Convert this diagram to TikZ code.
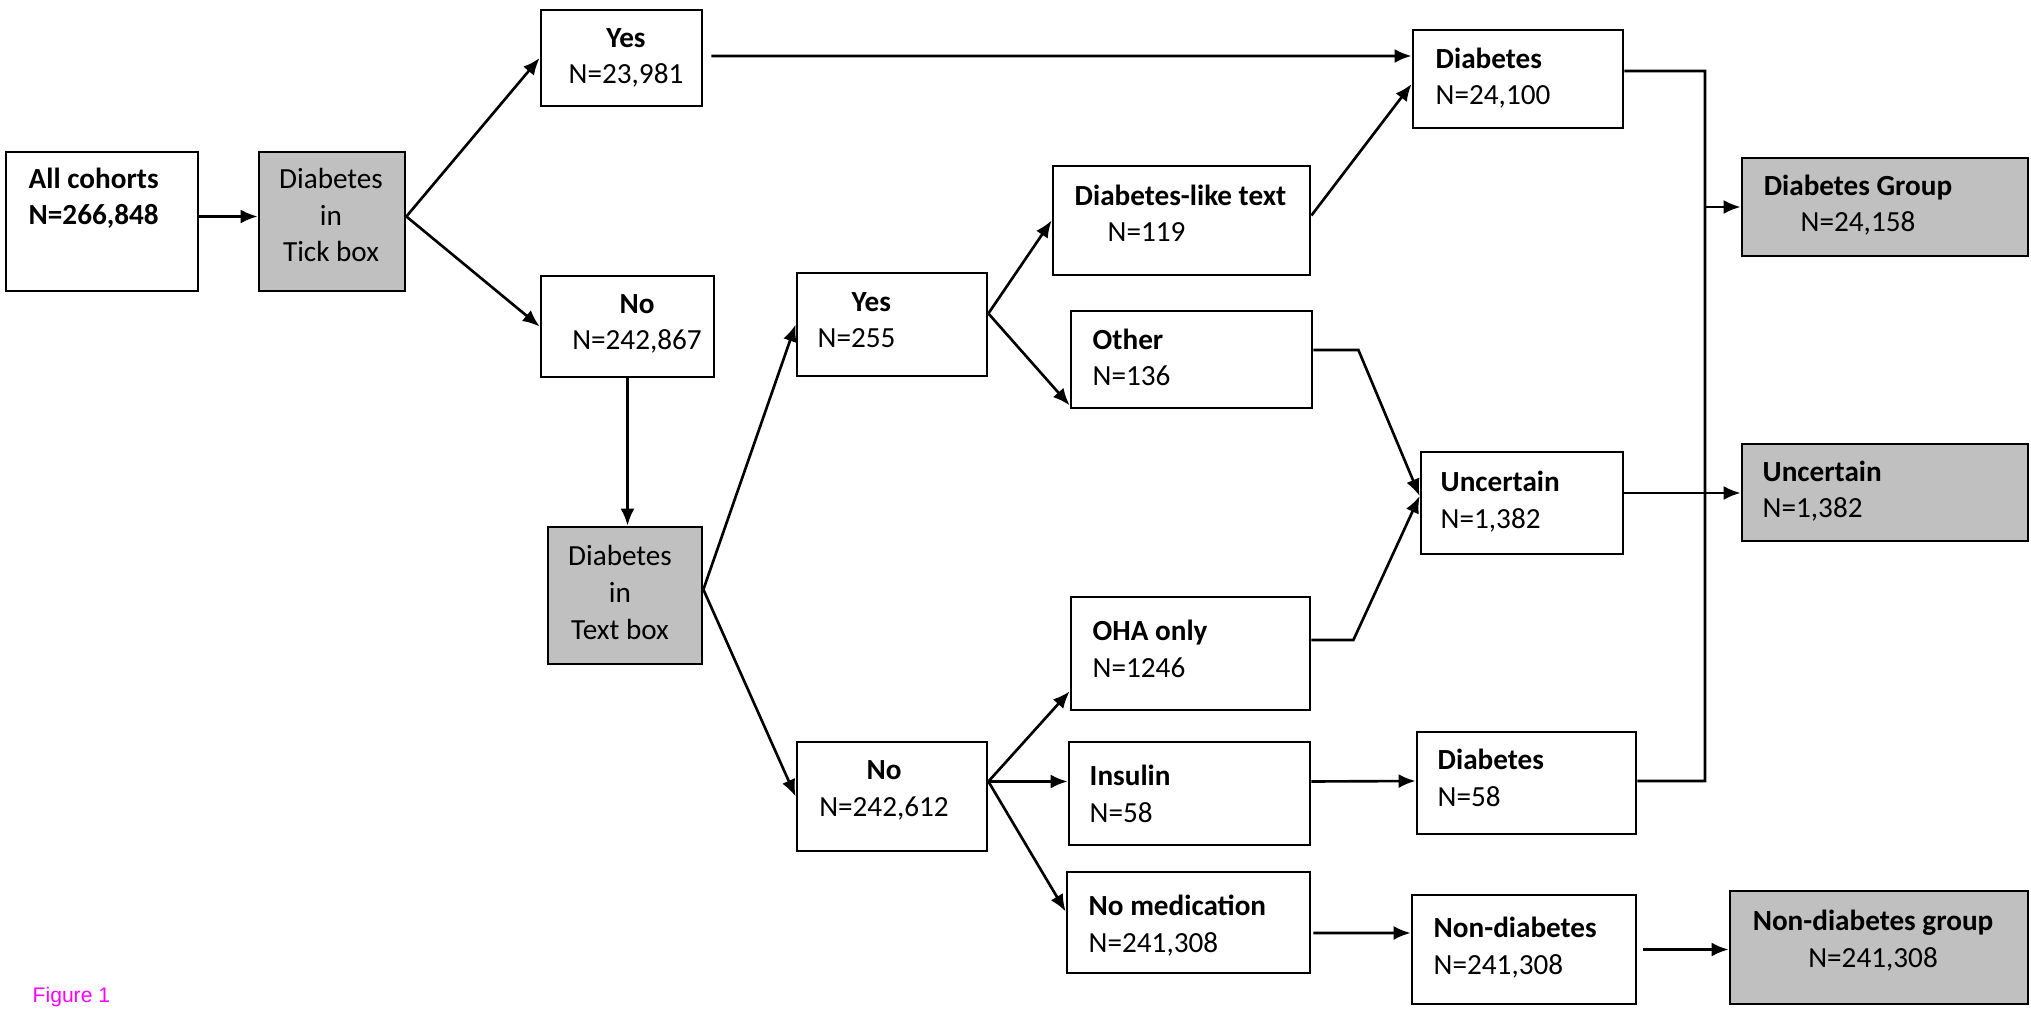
\documentclass[tikz,border=0pt]{standalone}
\usepackage{fontspec}
\setmainfont{Carlito}
\newfontfamily\figfont{Liberation Sans}
\usetikzlibrary{arrows.meta}
\definecolor{boxgray}{RGB}{192,192,192}
\definecolor{figmagenta}{RGB}{255,0,255}

\begin{document}
\begin{tikzpicture}[x=0.01cm,y=-0.01cm,
  cell/.style={draw,line width=0.75pt,inner sep=0pt},
  shaded/.style={cell,fill=boxgray},
  txt/.style={inner sep=0pt,font=\fontsize{8.3}{10.5}\selectfont},
  lt/.style={txt,align=left,anchor=base west},
  ct/.style={txt,align=center,anchor=base},
  arr/.style={line width=0.75pt,-{Latex[length=0.17cm,width=0.14cm]}},
  link/.style={line width=0.75pt}]
  \useasboundingbox (0,0) rectangle (2031,1013);
  % boxes: name/centre x/centre y/width/height
  \foreach \n/\x/\y/\w/\h in {all/102/221.5/1.92/1.39, yes1/621.5/58/1.61/0.96,
      no1/627.5/326.5/1.73/1.01, yes2/892/324.5/1.90/1.03, no2/892/796.5/1.90/1.09,
      like/1181.5/220.5/2.57/1.09, other/1191.5/359.5/2.41/0.97, oha/1190.5/653.5/2.39/1.13,
      insulin/1189.5/793.5/2.41/1.03, nomed/1188.5/922.5/2.43/1.01, diab1/1518/79/2.10/0.98,
      unc1/1522/503/2.02/1.02, diab2/1526.5/783/2.19/1.02, nondiab/1524/949.5/2.24/1.09}{
    \node[cell,minimum width=\w cm,minimum height=\h cm] (\n) at (\x,\y) {};}
  \foreach \n/\x/\y/\w/\h in {tick/332/221.5/1.46/1.39, textbox/625/595.5/1.54/1.37,
      dgroup/1885/207/2.86/0.98, ugroup/1885/492.5/2.86/0.97, ngroup/1879/947.5/2.98/1.13}{
    \node[shaded,minimum width=\w cm,minimum height=\h cm] (\n) at (\x,\y) {};}
  % texts (placed by the baseline of their last line)
  \node[lt] (all-t) at (28,225) {\textbf{All cohorts}\\\textbf{N=266,848}};
  \node[ct] (tick-t) at (331,262) {Diabetes\\in\\Tick box};
  \node[ct] (yes1-t) at (626,84) {\textbf{Yes}\\N=23,981};
  \node[ct] (no1-t) at (637,350) {\textbf{No}\\N=242,867};
  \node[ct] (textbox-t) at (620,639) {Diabetes\\in\\Text box};
  \node[lt] (yes2-t) at (817,348) {\hspace*{0.34cm}\textbf{Yes}\\N=255};
  \node[ct] (no2-t) at (884,816) {\textbf{No}\\N=242,612};
  \node[lt] (like-t) at (1074,242) {\textbf{Diabetes-like text}\\\hspace*{0.33cm}N=119};
  \node[lt] (other-t) at (1092,386) {\textbf{Other}\\N=136};
  \node[lt] (oha-t) at (1092,677) {\textbf{OHA only}\\N=1246};
  \node[lt] (insulin-t) at (1089,822) {\textbf{Insulin}\\N=58};
  \node[lt] (nomed-t) at (1088,952) {\textbf{No medication}\\N=241,308};
  \node[lt] (diab1-t) at (1435,105) {\textbf{Diabetes}\\N=24,100};
  \node[lt] (unc1-t) at (1440,528) {\textbf{Uncertain}\\N=1,382};
  \node[lt] (diab2-t) at (1437,806) {\textbf{Diabetes}\\N=58};
  \node[lt] (nondiab-t) at (1433,974) {\textbf{Non-diabetes}\\N=241,308};
  \node[ct] (dgroup-t) at (1858,232) {\textbf{Diabetes Group}\\N=24,158};
  \node[lt] (ugroup-t) at (1762,518) {\textbf{Uncertain}\\N=1,382};
  \node[ct] (ngroup-t) at (1873,967) {\textbf{Non-diabetes group}\\N=241,308};
  \node[anchor=base west,inner sep=0pt,text=figmagenta,font=\figfont\fontsize{6}{7}\selectfont] (fig) at (32,1002) {Figure 1};
  % connectors
  \coordinate (tick-out) at ([yshift=0.05cm]tick.east);
  \coordinate (textbox-out) at ([yshift=0.06cm]textbox.east);
  \coordinate (yes2-out) at ([yshift=0.11cm]yes2.east);
  \coordinate (no2-out) at ([yshift=0.15cm]no2.east);
  \coordinate (unc-in) at ([yshift=0.07cm]unc1.west);
  \draw[arr] ([yshift=0.05cm]all.east) -- ([yshift=0.05cm]tick.west);
  \draw[arr] (tick-out) -- (yes1.west);
  \draw[arr] (tick-out) -- (no1.west);
  \draw[arr] ([xshift=0.08cm,yshift=0.02cm]yes1.east) -- ([yshift=0.23cm]diab1.west);
  \draw[arr] (no1.south) -- (no1.south |- textbox.north);
  \draw[arr] (textbox-out) -- (yes2.west);
  \draw[arr] (textbox-out) -- (no2.west);
  \draw[arr] (yes2-out) -- (like.west);
  \draw[arr] (yes2-out) -- ([yshift=0.04cm]other.south west);
  \draw[arr] ([yshift=0.05cm]like.east) -- ([yshift=-0.05cm]diab1.west);
  \draw[arr] ([yshift=0.095cm]other.east) -- ++(45,0) -- (unc-in);
  \draw[arr] ([yshift=0.135cm]oha.east) -- ++(42,0) -- (unc-in);
  \draw[arr] (no2-out) -- ([yshift=0.2cm]oha.south west);
  \draw[arr] (no2-out) -- (no2-out -| insulin.west);
  \draw[arr] (no2-out) -- ([yshift=0.11cm]nomed.west);
  \draw[arr] ([yshift=0.12cm]insulin.east) -- ([yshift=0.02cm]diab2.west);
  \draw[arr] ([xshift=0.02cm,yshift=-0.105cm]nomed.east) -- ([yshift=0.165cm]nondiab.west);
  \draw[arr] ([xshift=0.06cm]nondiab.east) -- (nondiab.east -| ngroup.west);
  \draw[arr] ([yshift=0.1cm]unc1.east) -- ([yshift=0.1cm]unc1.east -| ugroup.west);
  \coordinate (bus-top) at (1705,71);
  \coordinate (bus-bot) at (1705,781);
  \draw[link] ([yshift=0.08cm]diab1.east) -- (bus-top) -- (bus-bot) -- (bus-bot -| diab2.east);
  \draw[arr] (bus-top |- dgroup.west) -- (dgroup.west);
\end{tikzpicture}
\end{document}
